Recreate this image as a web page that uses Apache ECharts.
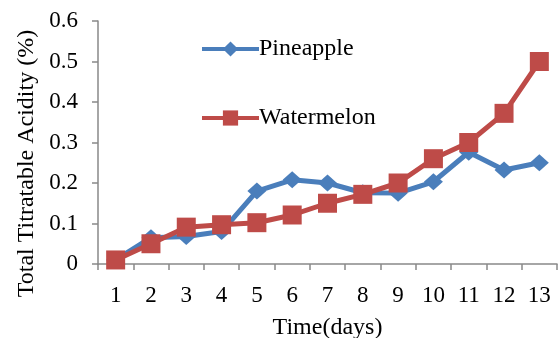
<!DOCTYPE html>
<html>
<head>
<meta charset="utf-8">
<script src="https://cdn.jsdelivr.net/npm/echarts@6/dist/echarts.min.js"></script>
<style>
  html, body { margin: 0; padding: 0; background: #fff; }
  #chart { width: 558px; height: 338px; }
</style>
</head>
<body>
<div id="chart"></div>
<script>
var days = ['1', '2', '3', '4', '5', '6', '7', '8', '9', '10', '11', '12', '13'];
var pineapple = [0.01, 0.065, 0.068, 0.08, 0.18, 0.208, 0.2, 0.176, 0.175, 0.203, 0.276, 0.232, 0.25];
var watermelon = [0.01, 0.05, 0.091, 0.097, 0.102, 0.121, 0.15, 0.172, 0.2, 0.26, 0.3, 0.372, 0.5];

// 字体与颜色
var serif = '"Liberation Serif", "Times New Roman", serif';
var axisGrey = '#898989';

var myChart = echarts.init(document.getElementById('chart'));
var option = {
  animation: false,
  backgroundColor: '#fff',
  grid: { left: 98, right: 1, top: 21, bottom: 74, outerBoundsMode: 'none', containLabel: false },
  legend: {
    orient: 'vertical',
    left: 200,
    top: 37,
    padding: 0,
    itemWidth: 57,
    itemHeight: 19,
    itemGap: 45,
    lineStyle: { width: 4 },
    textStyle: { fontFamily: serif, fontSize: 24, color: '#000', padding: [0, 0, 0, -5] },
    data: ['Pineapple', 'Watermelon']
  },
  xAxis: {
    type: 'category',
    data: days,
    boundaryGap: true,
    name: 'Time(days)',
    nameLocation: 'middle',
    nameGap: 52,
    nameTextStyle: { fontFamily: serif, fontSize: 24, color: '#000' },
    axisLine: { lineStyle: { color: axisGrey, width: 1.5 } },
    axisTick: { show: true, length: 6, lineStyle: { color: axisGrey, width: 1.5 } },
    axisLabel: { fontFamily: serif, fontSize: 23, color: '#000', margin: 20 },
    splitLine: { show: false }
  },
  yAxis: {
    type: 'value',
    min: 0,
    max: 0.6,
    interval: 0.1,
    name: 'Total Titratable Acidity (%)',
    nameLocation: 'middle',
    nameGap: 58,
    nameRotate: 90,
    nameTextStyle: { fontFamily: serif, fontSize: 24, color: '#000', padding: [0, 42, 0, 0] },
    axisLine: { show: true, lineStyle: { color: axisGrey, width: 1.5 } },
    axisTick: { show: true, length: 6, lineStyle: { color: axisGrey, width: 1.5 } },
    axisLabel: { fontFamily: serif, fontSize: 23, color: '#000', margin: 20 },
    splitLine: { show: false }
  },
  series: [
    {
      name: 'Pineapple',
      type: 'line',
      data: pineapple,
      symbol: 'diamond',
      symbolSize: [19, 17],
      lineStyle: { color: '#4a7ebb', width: 5 },
      itemStyle: { color: '#4a7ebb' }
    },
    {
      name: 'Watermelon',
      type: 'line',
      data: watermelon,
      symbol: 'rect',
      symbolSize: 19,
      lineStyle: { color: '#be4b48', width: 5 },
      itemStyle: { color: '#be4b48' }
    }
  ]
};
myChart.setOption(option);
</script>
</body>
</html>
